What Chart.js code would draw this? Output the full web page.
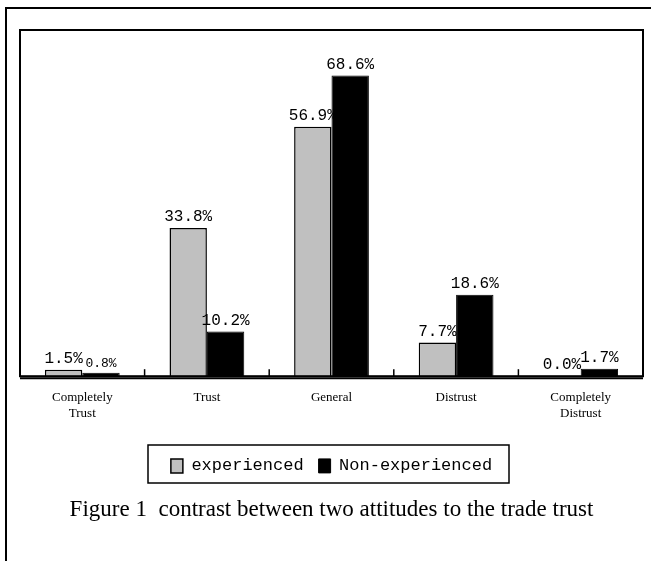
<!DOCTYPE html>
<html>
<head>
<meta charset="utf-8">
<script src="https://cdn.jsdelivr.net/npm/chart.js@4.4.0/dist/chart.umd.min.js"></script>
<style>
  html, body { margin: 0; padding: 0; background: #fff; }
  #wrap { width: 651px; height: 561px; }
</style>
</head>
<body>
<div id="wrap"><canvas id="trustChart" width="651" height="561"></canvas></div>
<script>
// categorias e valores (%)
const categorias = [['Completely', 'Trust'], 'Trust', 'General', 'Distrust', ['Completely', 'Distrust']];
const experienced = [1.5, 33.8, 56.9, 7.7, 0.0];
const nonExperienced = [0.8, 10.2, 68.6, 18.6, 1.7];
const nomesSeries = ['experienced', 'Non-experienced'];
const legenda = 'Figure 1  contrast between two attitudes to the trade trust';

// moldura, caixa do gráfico, marcas e rótulos de valor
const molduraPlugin = {
    id: 'moldura',
    afterDraw(chart) {
        const ctx = chart.ctx;
        const area = chart.chartArea;
        const x = chart.scales.x;
        ctx.save();
        ctx.strokeStyle = '#000';
        // moldura externa
        ctx.lineWidth = 2;
        ctx.beginPath();
        ctx.moveTo(6, 561);
        ctx.lineTo(6, 8);
        ctx.lineTo(651, 8);
        ctx.stroke();
        // caixa interna
        ctx.lineWidth = 2;
        ctx.strokeRect(area.left, area.top, area.right - area.left, area.bottom - area.top);
        ctx.beginPath();
        ctx.moveTo(area.left, area.bottom + 2);
        ctx.lineTo(area.right, area.bottom + 2);
        ctx.stroke();
        // marcas entre categorias
        ctx.lineWidth = 1.5;
        const meio = (x.getPixelForValue(1) - x.getPixelForValue(0)) / 2;
        for (let i = 0; i <= categorias.length; i++) {
            const px = i < categorias.length ? x.getPixelForValue(i) - meio : x.getPixelForValue(i - 1) + meio;
            ctx.beginPath();
            ctx.moveTo(px, area.bottom);
            ctx.lineTo(px, area.bottom - 7);
            ctx.stroke();
        }
        // rótulos de valor
        ctx.fillStyle = '#000';
        ctx.textAlign = 'center';
        ctx.textBaseline = 'bottom';
        chart.data.datasets.forEach(function(ds, di) {
            chart.getDatasetMeta(di).data.forEach(function(bar, i) {
                const v = ds.data[i];
                ctx.font = (v > 0 && v < 1 ? '13px' : '16px') + ' "Liberation Mono"';
                ctx.fillText(v.toFixed(1) + '%', bar.x, bar.y - 3);
            });
        });
        // caixa da legenda
        ctx.lineWidth = 1.5;
        ctx.strokeRect(148, 445, 361, 38);
        ctx.restore();
    }
};

const trustCtx = document.getElementById('trustChart');
const trustChart = new Chart(trustCtx.getContext('2d'), {
    type: 'bar',
    data: {
        labels: categorias,
        datasets: [{
            label: nomesSeries[0],
            data: experienced,
            backgroundColor: '#c0c0c0',
            borderColor: '#000',
            borderWidth: 1.5
        }, {
            label: nomesSeries[1],
            data: nonExperienced,
            backgroundColor: '#000',
            borderColor: '#000',
            borderWidth: 1
        }]
    },
    options: {
        responsive: false,
        animation: false,
        layout: { padding: { left: 20, right: 8, top: 30, bottom: 37 } },
        datasets: { bar: { categoryPercentage: 0.6, barPercentage: 1.0 } },
        scales: {
            x: {
                grid: { display: false },
                border: { display: false },
                afterFit: function(scale) { scale.height += 15; },
                ticks: {
                    color: '#000',
                    padding: 6,
                    maxRotation: 0,
                    font: { family: '"Liberation Serif"', size: 13 }
                }
            },
            y: { display: false, min: 0, max: 79 }
        },
        plugins: {
            tooltip: { enabled: false },
            legend: {
                position: 'bottom',
                labels: {
                    color: '#000',
                    boxWidth: 12,
                    boxHeight: 14,
                    padding: 15,
                    font: { family: '"Liberation Mono"', size: 17 }
                }
            },
            title: {
                display: true,
                position: 'bottom',
                text: legenda,
                color: '#000',
                font: { family: '"Liberation Serif"', size: 23, weight: 'normal' },
                padding: { top: 12, bottom: 0 }
            }
        }
    },
    plugins: [molduraPlugin]
});
</script>
</body>
</html>
